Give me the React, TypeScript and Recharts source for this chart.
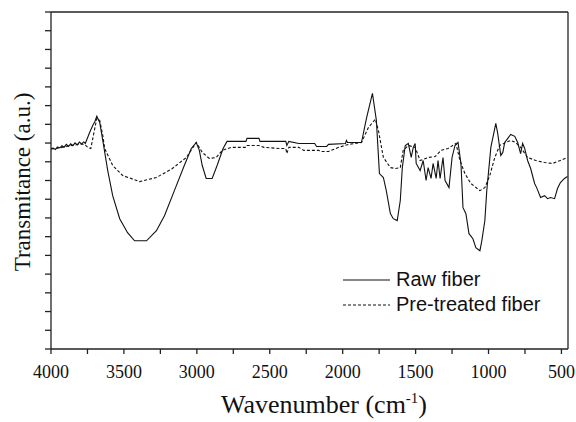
import React from 'react';
import {
  LineChart,
  Line,
  XAxis,
  YAxis,
  ReferenceLine,
  Label,
} from 'recharts';

// page has an 8px body margin by default
document.body.style.margin = '0';

// Raw fiber spectrum (wavenumber, transmittance a.u.)
const rawWavenumber = [
  4000, 3985, 3970, 3955, 3940, 3925, 3910, 3895, 3880, 3865, 3850, 3835, 3820, 3805, 3790, 3775, 3765,
  3733, 3713, 3699, 3686, 3666, 3645, 3611, 3577, 3529, 3475, 3427, 3345, 3277, 3222, 3154, 3086, 3038,
  3004, 2983, 2963, 2936, 2895, 2861, 2820, 2793, 2663, 2656, 2574, 2567, 2390, 2383, 2369, 2301, 2192,
  2179, 2110, 2097, 1981, 1974, 1967, 1871, 1837, 1796, 1769, 1748, 1721, 1701, 1673, 1653, 1626, 1605,
  1591, 1571, 1550, 1530, 1516, 1503, 1496, 1469, 1448, 1428, 1414, 1394, 1380, 1359, 1346, 1332, 1312,
  1298, 1271, 1250, 1230, 1209, 1189, 1175, 1155, 1134, 1107, 1087, 1059, 1046, 1025, 1012, 984, 950,
  937, 916, 902, 889, 868, 848, 820, 800, 780, 766, 752, 732, 711, 684, 670, 643, 616, 595, 575, 547,
  527, 507, 479, 459,
];
const rawTransmittance = [
  10.7, 10.73, 10.66, 10.79, 10.74, 10.86, 10.78, 10.93, 10.82, 10.96, 10.86, 11.01, 10.9, 11.05, 10.95, 11.06, 10.98,
  11.6, 11.95, 12.15, 12.43, 12.1, 11.14, 9.53, 8.19, 6.96, 6.21, 5.78, 5.78, 6.32, 7.12, 8.46, 9.8, 10.71,
  11.03, 10.61, 9.8, 9.11, 9.11, 9.8, 10.71, 11.09, 11.09, 11.25, 11.25, 11.09, 11.09, 10.87, 11.09, 10.98, 10.98,
  10.82, 10.82, 10.93, 10.98, 11.14, 11.03, 11.03, 12.32, 13.66, 12.21, 9.37, 9.16, 8.46, 7.23, 6.96, 6.86, 7.93,
  9.69, 10.87, 10.98, 10.23, 10.77, 10.98, 9.91, 9.53, 10.07, 9.0, 9.69, 9.11, 9.91, 9.11, 10.07, 9.11, 10.23,
  9.0, 8.62, 10.23, 10.87, 11.03, 9.91, 7.55, 7.23, 6.16, 5.89, 5.41, 5.25, 5.78, 6.86, 8.46, 10.77, 12.05,
  11.52, 10.34, 10.5, 11.03, 11.25, 11.46, 11.36, 11.03, 10.44, 10.98, 10.71, 10.07, 9.64, 8.84, 8.62, 8.09, 8.19, 8.03, 8.09, 8.03,
  8.57, 8.89, 9.11, 9.21,
];

// Pre-treated fiber spectrum
const treatedWavenumber = [
  4000, 3970, 3940, 3910, 3880, 3850, 3820, 3790, 3765, 3748, 3727, 3707, 3686, 3666, 3645, 3632, 3577,
  3509, 3393, 3277, 3168, 3072, 3004, 2963, 2915, 2867, 2826, 2765, 2663, 2656, 2574, 2540, 2438, 2390,
  2383, 2369, 2301, 2267, 2165, 2151, 2097, 2028, 1960, 1871, 1823, 1776, 1755, 1721, 1673, 1639, 1605,
  1585, 1550, 1503, 1469, 1414, 1366, 1325, 1278, 1223, 1196, 1162, 1121, 1059, 1025, 991, 957, 923, 882,
  848, 814, 780, 732, 677, 616, 561, 507, 459,
];
const treatedTransmittance = [
  10.68, 10.7, 10.74, 10.8, 10.84, 10.88, 10.92, 10.95, 10.9, 10.77, 10.71, 11.5, 12.32, 12.21, 11.41, 10.71, 9.8,
  9.27, 8.94, 9.16, 9.64, 10.23, 11.03, 10.5, 10.18, 10.23, 10.61, 10.77, 10.77, 10.87, 10.87, 10.77, 10.71, 10.71,
  10.44, 10.77, 10.77, 10.61, 10.61, 10.55, 10.55, 10.77, 10.93, 11.03, 11.84, 12.27, 11.68, 10.23, 9.69, 9.64, 9.69,
  10.61, 10.87, 10.77, 10.07, 10.23, 10.28, 10.61, 10.71, 10.98, 10.07, 9.37, 8.84, 8.46, 8.62, 9.27, 10.23, 10.87, 11.03,
  11.14, 11.03, 10.77, 10.23, 10.07, 9.96, 9.91, 10.07, 10.23,
];

const xTicks = [4000, 3750, 3500, 3250, 3000, 2750, 2500, 2250, 2000, 1750, 1500, 1250, 1000, 750, 500];
const yTicks = [0, 1, 2, 3, 4, 5, 6, 7, 8, 9, 10, 11, 12, 13, 14, 15, 16, 17, 18];
const seriesNames = ['Raw fiber', 'Pre-treated fiber'];

const rawData = rawWavenumber.map((w, i) => ({ w, t: rawTransmittance[i] }));
const treatedData = treatedWavenumber.map((w, i) => ({ w, t: treatedTransmittance[i] }));

const serif = '"Liberation Serif", "Times New Roman", serif';
const sans = '"Liberation Sans", Arial, sans-serif';
const axisColor = '#222';

function LegendBox() {
  const dashes = [undefined, '3 2'];
  return (
    <div
      style={{
        position: 'absolute',
        left: 343,
        top: 267,
        fontFamily: sans,
        fontSize: 20,
        color: '#111',
        lineHeight: '25px',
      }}
    >
      {seriesNames.map((name, i) => (
        <div key={name} style={{ display: 'flex', alignItems: 'center', height: 25 }}>
          <svg width={53} height={10}>
            <line x1={0} y1={5} x2={47} y2={5} stroke="#111" strokeWidth={1.2} strokeDasharray={dashes[i]} />
          </svg>
          <span>{name}</span>
        </div>
      ))}
    </div>
  );
}

export default function App() {
  return (
    <div style={{ position: 'relative', width: 576, height: 422 }}>
      <LineChart width={576} height={422} margin={{ top: 12, right: 8, bottom: 0, left: 0 }}>
        <XAxis
          type="number"
          dataKey="w"
          domain={[455, 4000]}
          reversed
          ticks={xTicks}
          tickFormatter={(v: number) => (v % 500 === 0 ? String(v) : '')}
          allowDataOverflow
          height={73}
          stroke={axisColor}
          strokeWidth={1.3}
          tickSize={5}
          tickMargin={11}
          tick={{ fill: '#111', fontSize: 18, fontFamily: serif }}
        >
          <Label
            content={() => (
              <text x={324} y={413} textAnchor="middle" fill="#111" fontFamily={serif} fontSize={26}>
                Wavenumber (cm
                <tspan fontSize={15} dy={-10}>-1</tspan>
                <tspan dy={10}>)</tspan>
              </text>
            )}
          />
        </XAxis>
        <YAxis
          type="number"
          domain={[0, 18]}
          ticks={yTicks}
          tickFormatter={() => ''}
          width={51}
          stroke={axisColor}
          strokeWidth={1.3}
          tickSize={6}
        >
          <Label
            content={() => (
              <text
                x={22}
                y={182}
                transform="rotate(-90 22 182)"
                textAnchor="middle"
                dominantBaseline="central"
                fill="#111"
                fontFamily={serif}
                fontSize={23}
              >
                Transmitance (a.u.)
              </text>
            )}
          />
        </YAxis>
        <ReferenceLine y={18} stroke={axisColor} strokeWidth={1.3} />
        <ReferenceLine x={455} stroke={axisColor} strokeWidth={1.3} />
        <Line
          data={rawData}
          dataKey="t"
          name={seriesNames[0]}
          type="linear"
          stroke="#111"
          strokeWidth={1.1}
          dot={false}
          isAnimationActive={false}
        />
        <Line
          data={treatedData}
          dataKey="t"
          name={seriesNames[1]}
          type="linear"
          stroke="#111"
          strokeWidth={1.1}
          strokeDasharray="3 2"
          dot={false}
          isAnimationActive={false}
        />
      </LineChart>
      <LegendBox />
    </div>
  );
}
